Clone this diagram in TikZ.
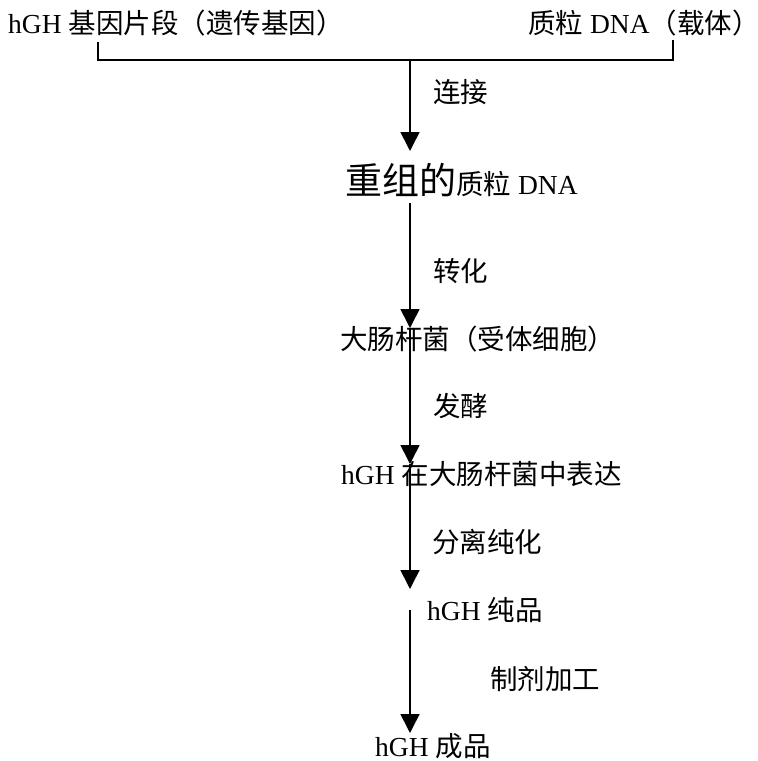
\documentclass[tikz,border=0pt]{standalone}
\usepackage{fontspec}
\setmainfont{Liberation Serif}
\newfontfamily\cjk{Noto Sans CJK SC}
\usetikzlibrary{arrows.meta}
\begin{document}
\begin{tikzpicture}[x=1pt,y=-1pt,
  lbl/.style={anchor=base west, inner sep=0pt, font=\fontsize{27.5}{31}\selectfont},
  conn/.style={line width=1.6pt, -{Triangle[width=19pt,length=19pt]}},
  brk/.style={line width=1.6pt}]
\useasboundingbox (0,0) rectangle (758,761);
% texts
\node[lbl] (gene) at (8,33) {hGH {\cjk 基因片段（遗传基因）}};
\node[lbl] (vec) at (528,33) {{\cjk 质粒} DNA{\cjk （载体）}};
\node[lbl] (l1) at (433,102) {\cjk 连接};
\node[lbl] (recomb) at (345,194) {{\fontsize{37}{42}\selectfont\cjk 重组的}{\cjk 质粒} DNA};
\node[lbl] (l2) at (433,281) {\cjk 转化};
\node[lbl] (ecoli) at (340,349) {\cjk 大肠杆菌（受体细胞）};
\node[lbl] (l3) at (433,416) {\cjk 发酵};
\node[lbl] (expr) at (341,484) {hGH {\cjk 在大肠杆菌中表达}};
\node[lbl] (l4) at (432,552) {\cjk 分离纯化};
\node[lbl] (pure) at (427,620) {hGH {\cjk 纯品}};
\node[lbl] (l5) at (490,689) {\cjk 制剂加工};
\node[lbl] (final) at (375,756) {hGH {\cjk 成品}};
% bracket
\coordinate (bl) at (98,42);
\coordinate (br) at (673,40);
\coordinate (j) at (410,60);
\draw[brk] (bl) |- (j) -| (br);
% stem
\coordinate (t1) at (410,151);
\coordinate (s2) at (410,203);
\coordinate (t2) at (410,328);
\coordinate (t3) at (410,464);
\coordinate (t4) at (410,589);
\coordinate (s5) at (410,610);
\coordinate (t5) at (410,733);
\draw[conn] (j) -- (t1);
\draw[conn] (s2) -- (t2);
\draw[conn] (t2) -- (t3);
\draw[conn] (t3) -- (t4);
\draw[conn] (s5) -- (t5);
\end{tikzpicture}
\end{document}
